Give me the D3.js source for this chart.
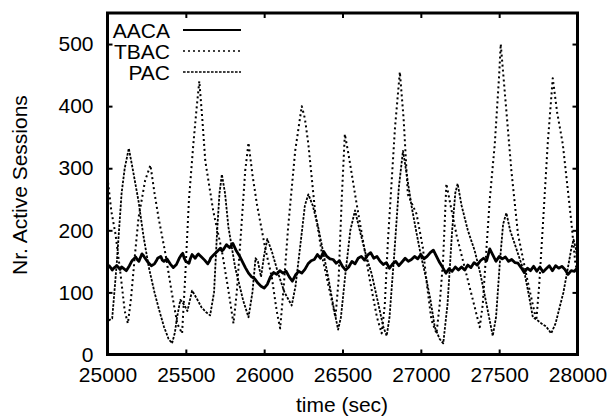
<!DOCTYPE html>
<html>
<head>
<meta charset="utf-8">
<script src="https://cdn.jsdelivr.net/npm/d3@7"></script>
<style>
  body { margin: 0; background: #fff; }
  svg { display: block; font-family: "Liberation Sans", Arial, Helvetica, sans-serif; }
</style>
</head>
<body>
<svg id="chart" width="613" height="419"></svg>
<script>
// Nr. of active sessions over time, three admission control schemes

var xTicks = [25000, 25500, 26000, 26500, 27000, 27500, 28000];
var yTicks = [0, 100, 200, 300, 400, 500];
var seriesNames = ['AACA', 'TBAC', 'PAC'];

// [time (sec), active sessions]
var aacaData = [
  [25000,138],[25010,143],[25020,140],[25030,136],[25040,139],[25060,143],[25080,137],[25090,141],
  [25100,139],[25120,135],[25140,143],[25150,148],[25160,152],[25180,157],[25190,153],[25200,150],
  [25220,162],[25230,159],[25240,155],[25260,148],[25280,143],[25300,146],[25310,150],[25320,155],
  [25340,158],[25350,152],[25360,150],[25380,154],[25400,146],[25420,140],[25440,145],[25460,156],
  [25470,160],[25480,163],[25490,155],[25500,150],[25520,147],[25530,155],[25540,161],[25560,155],
  [25570,159],[25580,162],[25600,157],[25620,152],[25640,146],[25650,150],[25660,156],[25680,161],
  [25700,166],[25720,171],[25730,167],[25740,169],[25760,177],[25770,174],[25780,172],[25800,179],
  [25820,168],[25840,160],[25860,150],[25880,140],[25900,131],[25920,125],[25940,122],[25960,115],
  [25980,110],[26000,107],[26020,113],[26040,125],[26060,132],[26080,129],[26100,135],[26120,131],
  [26140,134],[26160,125],[26180,118],[26200,128],[26220,134],[26240,131],[26260,137],[26280,146],
  [26300,151],[26320,153],[26340,161],[26360,155],[26380,166],[26400,158],[26420,154],[26440,153],
  [26460,147],[26480,151],[26500,142],[26520,136],[26540,141],[26560,150],[26580,146],[26600,155],
  [26620,158],[26640,152],[26660,160],[26680,164],[26700,155],[26720,158],[26740,150],[26760,145],
  [26780,148],[26800,139],[26820,146],[26840,150],[26860,143],[26880,149],[26900,155],[26920,150],
  [26940,153],[26960,158],[26980,154],[27000,161],[27020,154],[27040,158],[27060,164],[27080,168],
  [27100,158],[27120,148],[27140,140],[27160,131],[27180,138],[27200,134],[27220,141],[27240,136],
  [27260,141],[27280,136],[27300,144],[27320,140],[27340,148],[27360,144],[27380,151],[27400,155],
  [27420,151],[27440,170],[27460,160],[27480,150],[27500,158],[27520,154],[27540,157],[27560,150],
  [27580,153],[27600,148],[27620,147],[27640,140],[27660,132],[27680,139],[27700,135],[27720,142],
  [27740,134],[27760,141],[27780,133],[27800,138],[27820,143],[27840,135],[27860,143],[27880,139],
  [27900,142],[27920,137],[27940,129],[27960,135],[27980,134],[28000,140]
];

var tbacData = [
  [25000,285],[25025,230],[25051,194],[25083,130],[25110,70],[25130,50],[25150,90],[25175,160],
  [25198,220],[25240,280],[25274,305],[25300,260],[25326,220],[25370,162],[25410,100],[25445,50],
  [25476,34],[25495,120],[25520,250],[25548,339],[25570,400],[25586,440],[25605,380],[25624,312],
  [25675,231],[25730,167],[25772,103],[25804,50],[25825,100],[25847,178],[25879,296],[25900,341],
  [25925,290],[25953,243],[26006,172],[26049,124],[26080,70],[26102,42],[26125,110],[26153,205],
  [26198,328],[26240,400],[26260,380],[26282,339],[26325,231],[26376,151],[26431,87],[26455,60],
  [26475,120],[26495,250],[26515,355],[26540,320],[26590,243],[26675,119],[26720,60],[26750,34],
  [26770,80],[26790,183],[26835,365],[26866,455],[26890,380],[26917,258],[26973,226],[27013,172],
  [27040,110],[27068,55],[27100,34],[27120,80],[27142,151],[27163,275],[27190,240],[27230,190],
  [27280,140],[27330,90],[27376,44],[27395,80],[27408,130],[27440,250],[27472,339],[27500,450],
  [27510,500],[27530,440],[27578,296],[27620,194],[27680,120],[27737,55],[27755,110],[27778,204],
  [27810,340],[27842,445],[27870,390],[27906,339],[27960,215],[27985,150],[28000,130]
];

var pacData = [
  [25000,62],[25010,55],[25030,58],[25060,150],[25090,260],[25110,300],[25136,332],[25160,300],
  [25198,247],[25230,190],[25264,140],[25300,100],[25326,75],[25360,45],[25390,25],[25412,18],
  [25430,35],[25444,60],[25465,88],[25490,80],[25510,70],[25540,103],[25570,90],[25600,76],
  [25630,68],[25655,63],[25680,100],[25700,200],[25715,260],[25730,290],[25750,260],[25772,205],
  [25815,140],[25866,87],[25900,60],[25925,100],[25945,155],[25960,150],[25980,125],[26000,160],
  [26020,186],[26050,165],[26090,130],[26130,100],[26176,79],[26200,110],[26229,172],[26260,240],
  [26282,258],[26310,240],[26345,205],[26409,124],[26440,80],[26472,40],[26490,60],[26516,124],
  [26550,200],[26580,232],[26610,200],[26650,160],[26686,130],[26730,80],[26760,45],[26782,30],
  [26800,60],[26830,160],[26860,270],[26886,328],[26910,290],[26940,240],[26973,195],[27000,160],
  [27036,120],[27060,90],[27089,44],[27120,25],[27143,18],[27170,80],[27200,200],[27220,260],
  [27235,275],[27260,240],[27300,200],[27344,167],[27380,130],[27420,80],[27459,30],[27480,60],
  [27505,150],[27525,210],[27546,228],[27570,200],[27610,170],[27663,130],[27690,95],[27715,60],
  [27745,55],[27770,50],[27800,45],[27832,34],[27860,50],[27886,76],[27910,100],[27939,140],
  [27960,170],[27975,185],[27990,170],[28000,150]
];

var svg = d3.select('#chart');
var mLeft = 107.5, mRight = 577.5, mTop = 13, mBottom = 354.5;

var x = d3.scaleLinear().domain([25000, 28000]).range([mLeft, mRight]);
var y = d3.scaleLinear().domain([0, 550]).range([mBottom, mTop]);

var line = d3.line()
  .x(function(d) { return x(d[0]); })
  .y(function(d) { return y(d[1]); });

// series styles: solid, sparse dots, dense dashes
var styles = {
  AACA: { width: 2.8, dash: null },
  TBAC: { width: 2, dash: '2,3' },
  PAC:  { width: 1.8, dash: '2.6,1.4' }
};
var allData = { AACA: aacaData, TBAC: tbacData, PAC: pacData };

svg.append('clipPath').attr('id', 'plotclip')
  .append('rect')
    .attr('x', mLeft).attr('y', mTop)
    .attr('width', mRight - mLeft).attr('height', mBottom - mTop);

var plot = svg.append('g').attr('clip-path', 'url(#plotclip)');

['PAC', 'TBAC', 'AACA'].forEach(function(name) {
  plot.append('path')
    .datum(allData[name])
    .attr('d', line)
    .attr('fill', 'none')
    .attr('stroke', '#000')
    .attr('stroke-width', styles[name].width)
    .attr('stroke-dasharray', styles[name].dash)
    .attr('stroke-linejoin', 'round');
});

// axes, ticks pointing inward (gnuplot style, mirrored)
var fontSize = 21;
var xAxisB = d3.axisBottom(x).tickValues(xTicks).tickSize(-5).tickPadding(13).tickFormat(d3.format('d'));
var xAxisT = d3.axisTop(x).tickValues(xTicks.slice(1, -1)).tickSize(-5).tickFormat('');
var yAxisL = d3.axisLeft(y).tickValues(yTicks).tickSize(-5).tickPadding(14).tickFormat(d3.format('d'));
var yAxisR = d3.axisRight(y).tickValues(yTicks.slice(1)).tickSize(-5).tickFormat('');

function styleAxis(g) {
  g.select('.domain').remove();
  g.selectAll('.tick line').attr('stroke', '#000').attr('stroke-width', 2);
  g.selectAll('.tick text')
    .attr('fill', '#000')
    .style('font-size', fontSize + 'px');
}

svg.append('g').attr('transform', 'translate(0,' + mBottom + ')').call(xAxisB).call(styleAxis);
svg.append('g').attr('transform', 'translate(0,' + mTop + ')').call(xAxisT).call(styleAxis);
svg.append('g').attr('transform', 'translate(' + mLeft + ',0)').call(yAxisL).call(styleAxis);
svg.append('g').attr('transform', 'translate(' + mRight + ',0)').call(yAxisR).call(styleAxis);

// frame
svg.append('rect')
  .attr('x', mLeft).attr('y', mTop)
  .attr('width', mRight - mLeft).attr('height', mBottom - mTop)
  .attr('fill', 'none').attr('stroke', '#000').attr('stroke-width', 3);

// axis titles
svg.append('text')
  .attr('x', 342).attr('y', 412)
  .attr('text-anchor', 'middle')
  .style('font-size', fontSize + 'px')
  .text('time (sec)');

svg.append('text')
  .attr('transform', 'translate(19,185) rotate(-90)')
  .attr('text-anchor', 'middle')
  .attr('dominant-baseline', 'central')
  .style('font-size', fontSize + 'px')
  .text('Nr. Active Sessions');

// legend
var legend = svg.append('g').selectAll('g')
  .data(seriesNames)
  .enter().append('g')
    .attr('transform', function(d, i) { return 'translate(0,' + (30 + i * 21) + ')'; });

legend.append('text')
  .attr('x', 170).attr('y', 0)
  .attr('text-anchor', 'end')
  .attr('dominant-baseline', 'central')
  .style('font-size', fontSize + 'px')
  .text(function(d) { return d; });

legend.append('line')
  .attr('x1', 183).attr('x2', 241)
  .attr('y1', 0).attr('y2', 0)
  .attr('stroke', '#000')
  .attr('stroke-width', function(d) { return d === 'AACA' ? 2 : 1.6; })
  .attr('stroke-dasharray', function(d) { return styles[d].dash; });
</script>
</body>
</html>
